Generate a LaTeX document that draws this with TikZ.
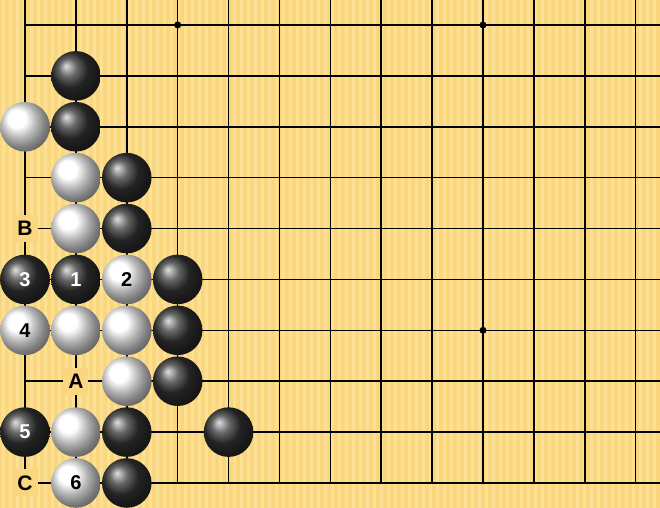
\documentclass[tikz,border=0pt]{standalone}
\usepackage{fontspec}
\setmainfont{Liberation Sans}
\usepackage{tikz}

\definecolor{board}{RGB}{250,215,126}
\definecolor{boardlight}{RGB}{252,224,148}

\begin{document}
\begin{tikzpicture}[x=50.889pt, y=50.889pt,
  gridline/.style={line width=1.5pt, line cap=rect},
  bstone/.style={circle, minimum size=49.6pt, inner sep=0pt, shading=ball, ball color=black!80, text=white, font=\fontsize{20}{20}\selectfont\bfseries},
  wstone/.style={circle, minimum size=49.6pt, inner sep=0pt, shading=ball, ball color=white, text=black, font=\fontsize{20}{20}\selectfont\bfseries},
  boardlbl/.style={fill=board, inner sep=0pt, minimum width=25pt, minimum height=27pt, font=\fontsize{21}{21}\selectfont\bfseries}]
\useasboundingbox (0.5087,0.5087) rectangle (13.478,10.491);

% board
\fill[board] (0.5087,0.5087) rectangle (13.478,10.491);
\begin{scope}[shift={(0.5087,0.5087)}]
\foreach \i in {0,...,94}
  \fill[boardlight] (\i*7pt+2pt,0pt) rectangle ++(2.5pt,508pt);
\end{scope}

% lines and star points
\foreach \c in {1,...,13}
  \draw[gridline] (\c,1) -- (\c,10.491);
\foreach \r in {1,...,10}
  \draw[gridline] (1,\r) -- (13.478,\r);
\fill (4,10) circle (3.5pt);
\fill (10,10) circle (3.5pt);
\fill (10,4) circle (3.5pt);

% letters
\node (B) at (1,6) [boardlbl] {B};
\node (A) at (2,3) [boardlbl] {A};
\node (C) at (1,1) [boardlbl] {C};

% black stones
\node (b29) at (2,9) [bstone] {};
\node (b28) at (2,8) [bstone] {};
\node (b37) at (3,7) [bstone] {};
\node (b36) at (3,6) [bstone] {};
\node (m3) at (1,5) [bstone] {3};
\node (m1) at (2,5) [bstone] {1};
\node (b45) at (4,5) [bstone] {};
\node (b44) at (4,4) [bstone] {};
\node (b43) at (4,3) [bstone] {};
\node (m5) at (1,2) [bstone] {5};
\node (b32) at (3,2) [bstone] {};
\node (b52) at (5,2) [bstone] {};
\node (b31) at (3,1) [bstone] {};

% white stones
\node (w18) at (1,8) [wstone] {};
\node (w27) at (2,7) [wstone] {};
\node (w26) at (2,6) [wstone] {};
\node (m2) at (3,5) [wstone] {2};
\node (m4) at (1,4) [wstone] {4};
\node (w24) at (2,4) [wstone] {};
\node (w34) at (3,4) [wstone] {};
\node (w33) at (3,3) [wstone] {};
\node (w22) at (2,2) [wstone] {};
\node (m6) at (2,1) [wstone] {6};

\end{tikzpicture}
\end{document}
